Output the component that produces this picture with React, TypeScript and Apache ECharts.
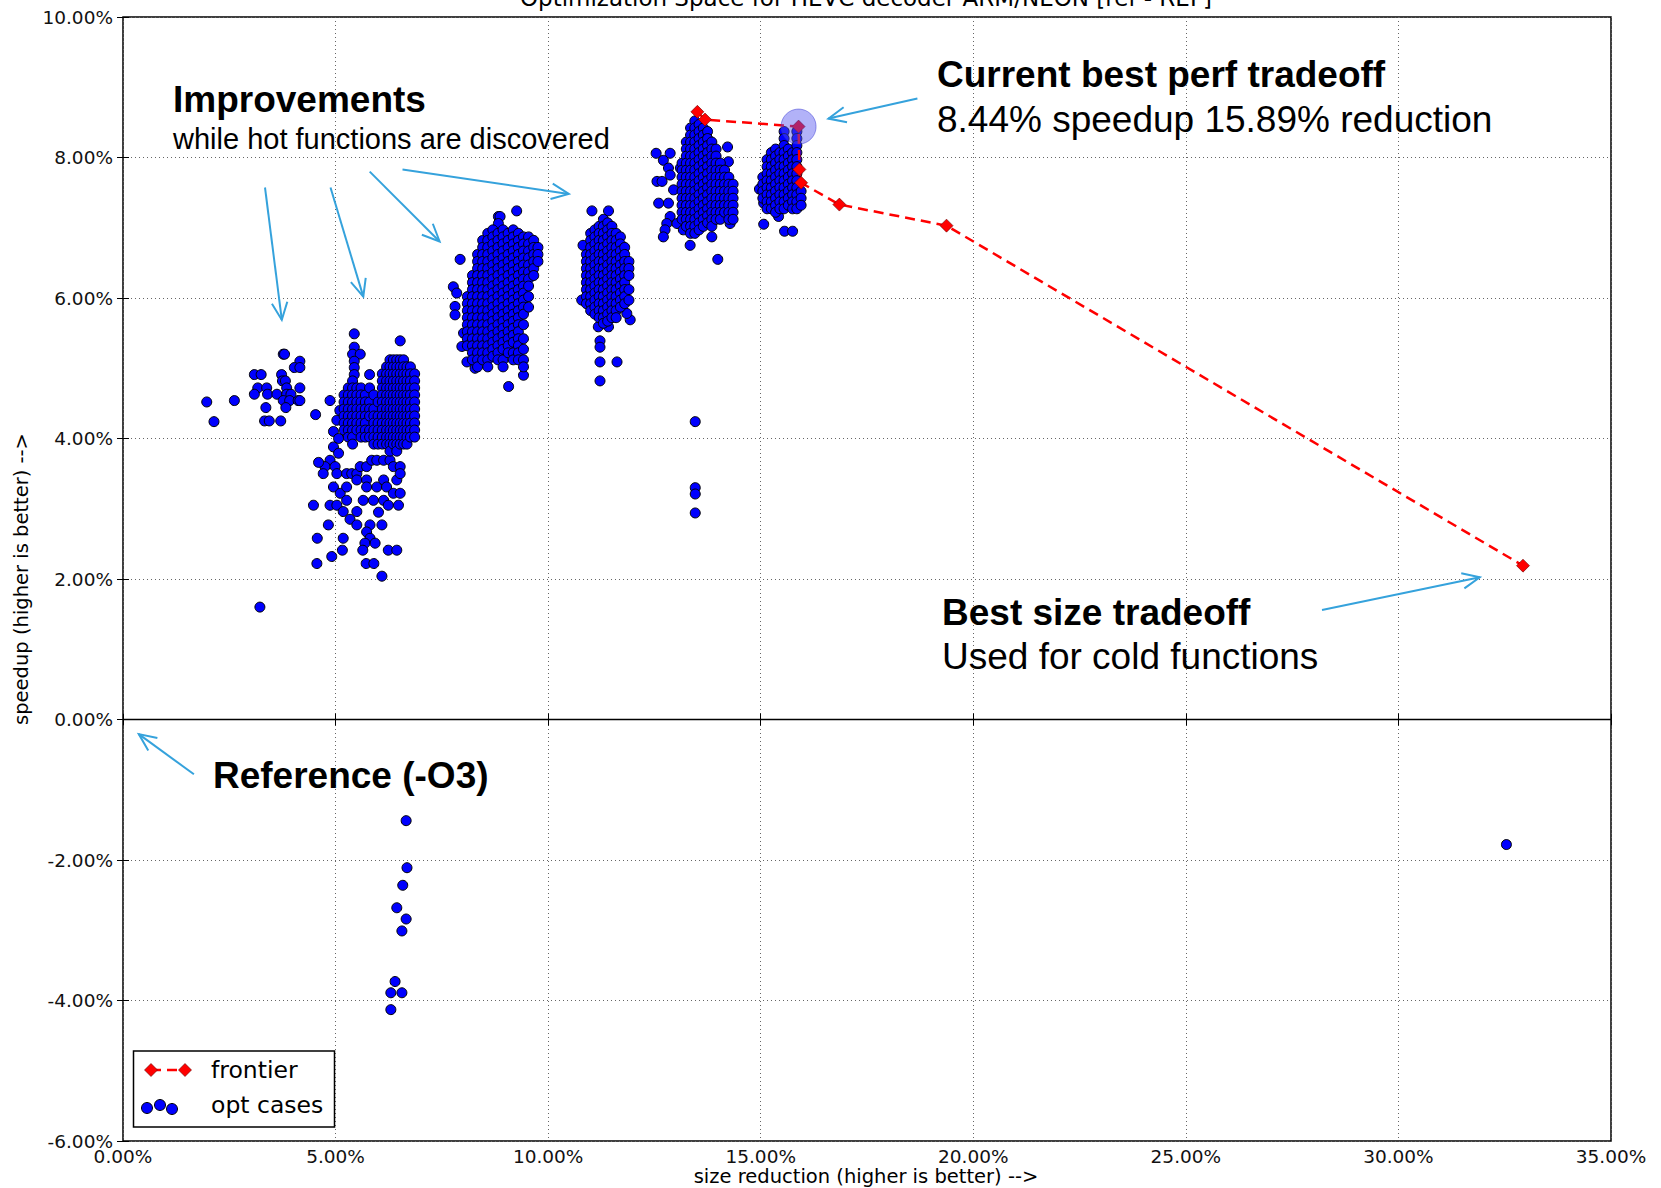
import React, { useEffect, useRef } from "react";
import * as echarts from "echarts";

// ---------- axis ranges ----------
const X_MIN = 0, X_MAX = 35, X_STEP = 5;
const Y_MIN = -6, Y_MAX = 10, Y_STEP = 2;

// ---------- frontier ----------
const frontier: [number, number][] = [
  [13.51, 8.65], [13.69, 8.54], [15.89, 8.44], [15.91, 7.83],
  [15.95, 7.64], [16.85, 7.33], [19.37, 7.03], [32.93, 2.19],
];
const bestPerf: [number, number][] = [[15.89, 8.44]];
const zeroLine: [number, number][] = [[0, 0], [35, 0]];

// ---------- opt cases ----------
const clusterA: [number, number][] = [
  [1.97, 4.52], [2.14, 4.24], [2.62, 4.54], [3.09, 4.91], [3.25, 4.91], [3.77, 5.2], [3.8, 5.2],
  [4.16, 5.1], [4.03, 5.01], [4.16, 5.01], [3.73, 4.91], [3.75, 4.82], [3.82, 4.82], [3.17, 4.72],
  [3.38, 4.72], [3.85, 4.72], [4.16, 4.72], [3.09, 4.63], [3.4, 4.63], [3.62, 4.63], [3.85, 4.63],
  [3.95, 4.63], [3.77, 4.54], [3.92, 4.54], [4.12, 4.54], [4.16, 4.54], [3.36, 4.44], [3.83, 4.44],
  [3.33, 4.25], [3.44, 4.25], [3.71, 4.25], [3.22, 1.6],
];

const clusterBSparse: [number, number][] = [
  [5.44, 5.49], [5.44, 5.3], [5.4, 5.2], [5.58, 5.2], [5.44, 5.1], [5.44, 5.01], [5.44, 4.91],
  [5.8, 4.91], [6.52, 5.39], [4.87, 4.54], [4.53, 4.34], [5.03, 4.26], [5.1, 4.4], [4.95, 4.1],
  [5.07, 4.0], [4.95, 3.88], [4.87, 3.69], [5.07, 3.79], [4.75, 3.6], [4.99, 3.6], [4.71, 3.5],
  [5.03, 3.5], [5.26, 3.5], [5.38, 3.5], [5.5, 3.5], [5.58, 3.6], [5.73, 3.6], [5.85, 3.69],
  [5.97, 3.69], [6.13, 3.69], [6.28, 3.69], [6.36, 3.6], [6.52, 3.6], [4.95, 3.31], [5.11, 3.22],
  [5.26, 3.31], [5.5, 3.41], [5.73, 3.41], [5.73, 3.31], [5.97, 3.31], [6.13, 3.41], [6.2, 3.31],
  [6.44, 3.41], [6.52, 3.5], [6.36, 3.22], [6.52, 3.22], [4.48, 3.05], [4.87, 3.05], [5.03, 3.05],
  [5.18, 2.96], [5.26, 3.12], [5.65, 3.12], [5.89, 3.12], [6.13, 3.12], [6.24, 3.05], [6.48, 3.05],
  [5.5, 2.96], [5.34, 2.85], [5.5, 2.77], [5.81, 2.77], [6.09, 2.77], [4.83, 2.77], [4.57, 2.58],
  [5.18, 2.58], [5.73, 2.67], [5.81, 2.58], [5.69, 2.51], [5.93, 2.51], [5.64, 2.41], [5.16, 2.41],
  [4.91, 2.32], [4.56, 2.22], [5.72, 2.22], [5.9, 2.22], [6.24, 2.41], [6.44, 2.41], [6.09, 2.04],
  [6.01, 2.95], [4.6, 3.66],
];

const clusterBCols: [number, number[]][] = [
  [5.2, [4.62, 4.52, 4.42, 4.32, 4.22, 4.12]],
  [5.3, [4.72, 4.62, 4.52, 4.42, 4.32, 4.22, 4.12, 4.02]],
  [5.4, [4.82, 4.72, 4.62, 4.52, 4.42, 4.32, 4.22, 4.12, 4.02, 3.92]],
  [5.5, [4.72, 4.62, 4.52, 4.42, 4.32, 4.22, 4.12]],
  [5.6, [4.72, 4.62, 4.52, 4.42, 4.32, 4.22, 4.12, 4.02]],
  [5.7, [4.62, 4.52, 4.42, 4.32, 4.22, 4.12, 4.02]],
  [5.8, [4.72, 4.52, 4.42, 4.32, 4.12, 4.02]],
  [5.9, [4.62, 4.42, 4.32, 4.22, 4.12, 4.02, 3.92]],
  [6.0, [4.52, 4.32, 4.22, 4.12, 4.02, 3.92]],
  [6.1, [4.92, 4.82, 4.72, 4.62, 4.52, 4.42, 4.32, 4.22, 4.12, 4.02, 3.92]],
  [6.2, [5.02, 4.92, 4.82, 4.72, 4.62, 4.52, 4.42, 4.32, 4.22, 4.12, 4.02, 3.92]],
  [6.28, [5.12, 5.02, 4.92, 4.82, 4.72, 4.62, 4.52, 4.42, 4.32, 4.22, 4.12, 4.02, 3.92, 3.82]],
  [6.36, [5.12, 5.02, 4.92, 4.82, 4.72, 4.62, 4.52, 4.42, 4.32, 4.22, 4.12, 4.02, 3.92]],
  [6.44, [5.12, 5.02, 4.92, 4.82, 4.72, 4.62, 4.52, 4.42, 4.32, 4.22, 4.12, 4.02, 3.92, 3.82]],
  [6.52, [5.12, 5.02, 4.92, 4.82, 4.72, 4.62, 4.52, 4.42, 4.32, 4.22, 4.12, 4.02, 3.92]],
  [6.6, [5.12, 5.02, 4.92, 4.82, 4.72, 4.62, 4.52, 4.42, 4.32, 4.22, 4.12, 4.02, 3.92]],
  [6.68, [5.02, 4.92, 4.82, 4.72, 4.62, 4.52, 4.42, 4.32, 4.22, 4.12, 4.02, 3.92]],
  [6.76, [5.02, 4.92, 4.82, 4.72, 4.62, 4.52, 4.42, 4.32, 4.22, 4.12, 4.02]],
  [6.86, [4.92, 4.82, 4.72, 4.62, 4.52, 4.42, 4.32, 4.22, 4.12, 4.02]],
];

const clusterCSparse: [number, number][] = [
  [9.26, 7.24], [8.83, 7.16], [8.87, 7.16], [8.83, 7.06], [7.93, 6.55], [7.77, 6.16], [7.85, 6.07],
  [7.81, 5.88], [7.81, 5.76], [8.01, 5.5], [7.97, 5.31], [8.09, 5.09], [8.28, 5.0], [9.07, 4.74],
  [9.42, 4.9],
];
const clusterCCols: [number, number[]][] = [
  [8.1, [6.02, 5.92, 5.82, 5.72, 5.62, 5.52, 5.42, 5.32]],
  [8.22, [6.32, 6.22, 6.12, 6.02, 5.92, 5.82, 5.72, 5.62, 5.52, 5.42, 5.32, 5.22, 5.12]],
  [8.34, [6.62, 6.52, 6.42, 6.32, 6.22, 6.12, 6.02, 5.92, 5.82, 5.72, 5.62, 5.52, 5.42, 5.32, 5.22, 5.12, 5.02]],
  [8.46, [6.82, 6.72, 6.62, 6.52, 6.42, 6.32, 6.22, 6.12, 6.02, 5.92, 5.82, 5.72, 5.62, 5.52, 5.42, 5.32, 5.22, 5.12]],
  [8.58, [6.92, 6.82, 6.72, 6.62, 6.52, 6.42, 6.32, 6.22, 6.12, 6.02, 5.92, 5.82, 5.72, 5.62, 5.52, 5.42, 5.32, 5.22, 5.12, 5.02]],
  [8.7, [6.97, 6.87, 6.77, 6.67, 6.57, 6.47, 6.37, 6.27, 6.17, 6.07, 5.97, 5.87, 5.77, 5.67, 5.57, 5.47, 5.37, 5.27, 5.17]],
  [8.82, [6.92, 6.82, 6.72, 6.62, 6.52, 6.42, 6.32, 6.22, 6.12, 6.02, 5.92, 5.82, 5.72, 5.62, 5.52, 5.42, 5.32, 5.22, 5.12]],
  [8.94, [6.97, 6.87, 6.77, 6.67, 6.57, 6.47, 6.37, 6.27, 6.17, 6.07, 5.97, 5.87, 5.77, 5.67, 5.57, 5.47, 5.37, 5.27, 5.12, 5.02]],
  [9.06, [6.92, 6.82, 6.72, 6.62, 6.52, 6.42, 6.32, 6.22, 6.12, 6.02, 5.92, 5.82, 5.72, 5.62, 5.52, 5.42, 5.32, 5.22]],
  [9.18, [6.97, 6.87, 6.77, 6.67, 6.57, 6.47, 6.37, 6.27, 6.17, 6.07, 5.97, 5.87, 5.77, 5.67, 5.57, 5.47, 5.37, 5.22, 5.12]],
  [9.3, [6.92, 6.82, 6.72, 6.62, 6.52, 6.42, 6.32, 6.22, 6.12, 6.02, 5.92, 5.82, 5.72, 5.62, 5.52, 5.42, 5.32, 5.22, 5.12]],
  [9.42, [6.87, 6.77, 6.67, 6.57, 6.47, 6.37, 6.27, 6.17, 6.07, 5.97, 5.87, 5.77, 5.62, 5.42, 5.27, 5.12, 5.02]],
  [9.54, [6.87, 6.77, 6.67, 6.57, 6.47, 6.37, 6.27, 6.17, 6.02, 5.87]],
  [9.66, [6.82, 6.72, 6.62, 6.52, 6.42, 6.32]],
  [9.76, [6.72, 6.62, 6.52]],
];

const clusterDSparse: [number, number][] = [
  [11.03, 7.24], [11.42, 7.24], [10.82, 6.75], [10.79, 5.97], [11.18, 5.59], [11.42, 5.59],
  [11.22, 5.39], [11.22, 5.3], [11.22, 5.09], [11.62, 5.09], [11.22, 4.82], [11.93, 5.69], [11.85, 5.78],
];
const clusterDCols: [number, number[]][] = [
  [10.9, [6.62, 6.52, 6.42, 6.32, 6.22, 6.12, 6.02, 5.92]],
  [11.0, [6.92, 6.82, 6.72, 6.62, 6.52, 6.42, 6.32, 6.22, 6.12, 6.02, 5.92, 5.82]],
  [11.1, [6.97, 6.87, 6.77, 6.67, 6.57, 6.47, 6.37, 6.27, 6.17, 6.07, 5.97, 5.87, 5.77]],
  [11.2, [7.02, 6.92, 6.82, 6.72, 6.62, 6.52, 6.42, 6.32, 6.22, 6.12, 6.02, 5.92, 5.82, 5.72]],
  [11.3, [7.12, 7.02, 6.92, 6.82, 6.72, 6.62, 6.52, 6.42, 6.32, 6.22, 6.12, 6.02, 5.92, 5.82, 5.72, 5.64]],
  [11.4, [7.07, 6.97, 6.87, 6.77, 6.67, 6.57, 6.47, 6.37, 6.27, 6.17, 6.07, 5.97, 5.87, 5.77, 5.67]],
  [11.5, [7.02, 6.92, 6.82, 6.72, 6.62, 6.52, 6.42, 6.32, 6.22, 6.12, 6.02, 5.92, 5.82, 5.72]],
  [11.6, [6.92, 6.82, 6.72, 6.62, 6.52, 6.42, 6.32, 6.22, 6.12, 6.02, 5.92, 5.82, 5.72]],
  [11.7, [6.87, 6.77, 6.67, 6.57, 6.47, 6.37, 6.27, 6.17, 6.07, 5.97, 5.87]],
  [11.8, [6.72, 6.62, 6.52, 6.42, 6.32, 6.22, 6.12, 6.02, 5.92]],
  [11.9, [6.52, 6.42, 6.32, 6.12, 5.97]],
];

const clusterESparse: [number, number][] = [
  [12.54, 8.06], [12.87, 8.06], [12.71, 7.96], [12.83, 7.85], [13.11, 7.85], [12.56, 7.66],
  [12.68, 7.66], [12.87, 7.75], [12.95, 7.54], [12.6, 7.35], [12.83, 7.35], [12.87, 7.16],
  [12.79, 7.06], [12.75, 6.97], [12.71, 6.87], [13.03, 7.06], [13.18, 6.97], [13.34, 6.75],
  [13.85, 6.87], [13.99, 6.55], [14.22, 8.15], [14.24, 7.94], [14.28, 7.06],
  [13.46, 4.24], [13.46, 3.3], [13.46, 3.21], [13.46, 2.94],
];
const clusterECols: [number, number[]][] = [
  [13.15, [7.92, 7.82, 7.72, 7.62, 7.52, 7.42, 7.32, 7.22, 7.12]],
  [13.25, [8.22, 8.12, 8.02, 7.92, 7.82, 7.72, 7.62, 7.52, 7.42, 7.32, 7.22, 7.12, 7.02]],
  [13.35, [8.42, 8.32, 8.22, 8.12, 8.02, 7.92, 7.82, 7.72, 7.62, 7.52, 7.42, 7.32, 7.22, 7.12, 7.02, 6.92]],
  [13.45, [8.52, 8.42, 8.32, 8.22, 8.12, 8.02, 7.92, 7.82, 7.72, 7.62, 7.52, 7.42, 7.32, 7.22, 7.12, 7.02, 6.92]],
  [13.55, [8.47, 8.37, 8.27, 8.17, 8.07, 7.97, 7.87, 7.77, 7.67, 7.57, 7.47, 7.37, 7.27, 7.17, 7.07, 6.97]],
  [13.65, [8.42, 8.32, 8.22, 8.12, 8.02, 7.92, 7.82, 7.72, 7.62, 7.52, 7.42, 7.32, 7.22, 7.12, 7.02]],
  [13.75, [8.37, 8.27, 8.17, 8.07, 7.97, 7.87, 7.77, 7.67, 7.57, 7.47, 7.37, 7.27, 7.17, 7.07]],
  [13.85, [8.22, 8.12, 8.02, 7.92, 7.82, 7.72, 7.62, 7.52, 7.42, 7.32, 7.22, 7.12, 7.02]],
  [13.95, [8.12, 8.02, 7.92, 7.82, 7.72, 7.62, 7.52, 7.42, 7.32, 7.22, 7.12]],
  [14.05, [7.92, 7.82, 7.72, 7.62, 7.52, 7.42, 7.32, 7.22, 7.12]],
  [14.15, [7.82, 7.72, 7.62, 7.52, 7.42, 7.32, 7.22]],
  [14.25, [7.72, 7.62, 7.52, 7.42, 7.32, 7.22, 7.12]],
  [14.35, [7.62, 7.52, 7.42, 7.32, 7.22, 7.12]],
];

const clusterFSparse: [number, number][] = [
  [14.97, 7.55], [15.07, 7.35], [15.42, 7.16], [15.07, 7.05], [15.56, 6.95], [15.75, 6.95],
];
const clusterFCols: [number, number[]][] = [
  [15.05, [7.72, 7.62, 7.52, 7.42]],
  [15.15, [7.97, 7.87, 7.77, 7.67, 7.57, 7.47, 7.37, 7.27]],
  [15.25, [8.07, 7.97, 7.87, 7.77, 7.67, 7.57, 7.47, 7.37, 7.27]],
  [15.35, [8.12, 8.02, 7.92, 7.82, 7.72, 7.62, 7.52, 7.42, 7.32, 7.22]],
  [15.45, [8.07, 7.97, 7.87, 7.77, 7.67, 7.57, 7.47, 7.37, 7.27]],
  [15.55, [8.37, 8.27, 8.17, 8.07, 7.97, 7.87, 7.77, 7.67, 7.57, 7.47, 7.37, 7.27]],
  [15.65, [8.12, 8.02, 7.92, 7.82, 7.72, 7.62, 7.52, 7.42, 7.32]],
  [15.75, [8.07, 7.97, 7.87, 7.77, 7.67, 7.57, 7.47, 7.37, 7.27]],
  [15.85, [8.37, 8.27, 8.17, 8.07, 7.97, 7.87, 7.77, 7.67, 7.57, 7.47, 7.37, 7.27]],
  [15.95, [7.52, 7.42, 7.32]],
];

const negativeCases: [number, number][] = [
  [6.66, -1.44], [6.68, -2.11], [6.58, -2.36], [6.44, -2.68], [6.66, -2.84], [6.56, -3.01],
  [6.4, -3.73], [6.3, -3.89], [6.56, -3.89], [6.3, -4.13], [32.54, -1.78],
];

const flatten = (cols: [number, number[]][]): [number, number][] =>
  cols.flatMap(([x, ys]) => ys.map((y) => [x, y] as [number, number]));

const optCases: [number, number][] = [
  ...clusterA,
  ...clusterBSparse, ...flatten(clusterBCols),
  ...clusterCSparse, ...flatten(clusterCCols),
  ...clusterDSparse, ...flatten(clusterDCols),
  ...clusterESparse, ...flatten(clusterECols),
  ...clusterFSparse, ...flatten(clusterFCols),
  ...negativeCases,
];

// ---------- styling helpers ----------
const ARROW = "#35a2dc";
const ANN_FONT = '"Liberation Sans", Arial, sans-serif';
const AX_FONT = '"DejaVu Sans", sans-serif';
const pct = (v: number) => v.toFixed(2) + "%";

function arrow(x1: number, y1: number, x2: number, y2: number) {
  const ang = Math.atan2(y2 - y1, x2 - x1);
  const L = 19, a = 0.42;
  const p1 = [x2 - L * Math.cos(ang - a), y2 - L * Math.sin(ang - a)];
  const p2 = [x2 - L * Math.cos(ang + a), y2 - L * Math.sin(ang + a)];
  return [
    { type: "line", shape: { x1, y1, x2, y2 }, style: { stroke: ARROW, lineWidth: 2 }, z: 100 },
    { type: "polyline", shape: { points: [p1, [x2, y2], p2] }, style: { stroke: ARROW, lineWidth: 2, fill: "none" }, z: 100 },
  ];
}

function txt(x: number, y: number, text: string, size: number, bold: boolean, family = ANN_FONT, align = "left") {
  return {
    type: "text", x, y, z: 100,
    style: { text, fontSize: size, fontWeight: bold ? "bold" : "normal", fontFamily: family, fill: "#000", align, verticalAlign: "middle" },
  };
}

export default function App() {
  const ref = useRef<HTMLDivElement>(null);
  useEffect(() => {
    if (!ref.current) return;
    const chart = echarts.init(ref.current, undefined, { renderer: "svg" });
    const tickLabel = { formatter: pct, fontFamily: AX_FONT, fontSize: 18.5, color: "#111" };
    const tick = { show: true, inside: true, length: 6, lineStyle: { color: "#000", width: 1 } };
    const split = { show: true, lineStyle: { color: "#666", width: 1, type: [1, 3] } };

    const graphic: any[] = [
      // title (mostly cut off at top, as in the reference)
      txt(866, -2.5, "Optimization Space for HEVC decoder ARM/NEON [ref - REF]", 23, false, AX_FONT, "center"),
      // axis names
      txt(866, 1176, "size reduction (higher is better) -->", 19.5, false, AX_FONT, "center"),
      { ...txt(21, 579, "speedup (higher is better) -->", 19.5, false, AX_FONT, "center"), rotation: Math.PI / 2 },
      // annotations
      txt(173, 99, "Improvements", 37, true),
      txt(173, 139, "while hot functions are discovered", 29, false),
      txt(937, 74, "Current best perf tradeoff", 37, true),
      txt(937, 119, "8.44% speedup 15.89% reduction", 37, false),
      txt(942, 612, "Best size tradeoff", 37, true),
      txt(942, 656, "Used for cold functions", 37, false),
      txt(213, 775, "Reference (-O3)", 37, true),
      ...arrow(265, 187.5, 281.8, 319.9),
      ...arrow(330.5, 187.5, 363.3, 296.6),
      ...arrow(369.7, 171.6, 439.6, 241.5),
      ...arrow(402.5, 169.5, 568.8, 193.9),
      ...arrow(917.4, 98.5, 828.4, 118.6),
      ...arrow(1322, 610, 1479.8, 577.3),
      ...arrow(193.9, 774.3, 138.8, 734.1),
      // legend
      { type: "rect", shape: { x: 133.5, y: 1051, width: 201, height: 76 }, style: { fill: "#fff", stroke: "#000", lineWidth: 1.5 }, z: 100 },
      { type: "line", shape: { x1: 151, y1: 1070, x2: 185, y2: 1070 }, style: { stroke: "#ff0000", lineWidth: 2.5, lineDash: [10, 6] }, z: 101 },
      { type: "polygon", shape: { points: [[151, 1063.5], [157.5, 1070], [151, 1076.5], [144.5, 1070]] }, style: { fill: "#ff0000", stroke: "#600", lineWidth: 0.6 }, z: 102 },
      { type: "polygon", shape: { points: [[185, 1063.5], [191.5, 1070], [185, 1076.5], [178.5, 1070]] }, style: { fill: "#ff0000", stroke: "#600", lineWidth: 0.6 }, z: 102 },
      { type: "circle", shape: { cx: 147, cy: 1108, r: 5.5 }, style: { fill: "#0000ff", stroke: "#000", lineWidth: 1 }, z: 101 },
      { type: "circle", shape: { cx: 160, cy: 1105, r: 5.5 }, style: { fill: "#0000ff", stroke: "#000", lineWidth: 1 }, z: 102 },
      { type: "circle", shape: { cx: 172, cy: 1109, r: 5.5 }, style: { fill: "#0000ff", stroke: "#000", lineWidth: 1 }, z: 103 },
      txt(211, 1070, "frontier", 23.5, false, AX_FONT),
      txt(211, 1105, "opt cases", 23.5, false, AX_FONT),
    ];

    chart.setOption({
      animation: false,
      backgroundColor: "#fff",
      grid: { left: 123, top: 17, right: 50, bottom: 47, show: true, borderColor: "#000", borderWidth: 1.5, backgroundColor: "transparent" },
      xAxis: [
        { type: "value", min: X_MIN, max: X_MAX, interval: X_STEP, position: "bottom", axisLine: { show: false }, axisTick: tick, axisLabel: { ...tickLabel, margin: 6 }, splitLine: split },
        { type: "value", min: X_MIN, max: X_MAX, interval: X_STEP, position: "top", axisLine: { show: false }, axisTick: tick, axisLabel: { show: false }, splitLine: { show: false } },
      ],
      yAxis: [
        { type: "value", min: Y_MIN, max: Y_MAX, interval: Y_STEP, position: "left", axisLine: { show: false }, axisTick: tick, axisLabel: { ...tickLabel, margin: 10 }, splitLine: split },
        { type: "value", min: Y_MIN, max: Y_MAX, interval: Y_STEP, position: "right", axisLine: { show: false }, axisTick: tick, axisLabel: { show: false }, splitLine: { show: false } },
      ],
      series: [
        { name: "zero", type: "line", data: zeroLine, symbol: "none", silent: true, z: 1, lineStyle: { color: "#000", width: 1.5 } },
        { name: "opt cases", type: "scatter", data: optCases, symbol: "circle", symbolSize: 10, z: 2, itemStyle: { color: "#0000ff", borderColor: "#000", borderWidth: 1, opacity: 1 } },
        { name: "frontier", type: "line", data: frontier, symbol: "diamond", symbolSize: 13, showAllSymbol: true, z: 3,
          lineStyle: { color: "#ff0000", width: 2.5, type: [10, 6] }, itemStyle: { color: "#ff0000", borderColor: "#600", borderWidth: 0.6 } },
        { name: "best perf", type: "scatter", data: bestPerf, symbolSize: 35, z: 4, itemStyle: { color: "rgba(80,80,240,0.55)", borderColor: "rgba(50,50,210,0.6)", borderWidth: 1 } },
      ],
      graphic,
    });
    return () => chart.dispose();
  }, []);
  return <div ref={ref} style={{ position: "fixed", left: 0, top: 0, width: 1661, height: 1188 }} />;
}
